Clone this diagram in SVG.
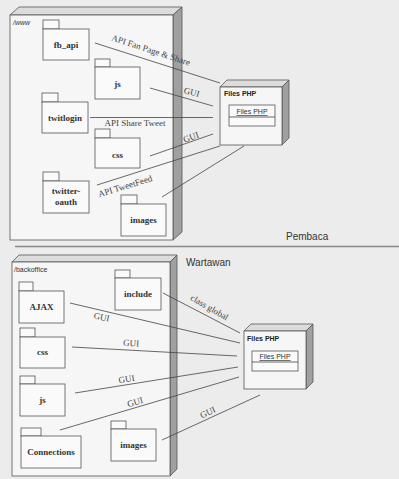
<svg xmlns="http://www.w3.org/2000/svg" width="399" height="479" viewBox="0 0 399 479">
<style>
.face{fill:#f6f6f6;stroke:#555;stroke-width:0.8}
.top{fill:#dcdcdc;stroke:#555;stroke-width:0.8}
.side{fill:#a0a0a0;stroke:#555;stroke-width:0.8}
.pk{fill:#fafafa;stroke:#555;stroke-width:0.8}
.pn{font-family:"Liberation Serif",serif;font-weight:bold;font-size:9px;fill:#333;text-anchor:middle}
.lb{font-family:"Liberation Serif",serif;font-size:9px;fill:#444;text-anchor:middle}
.nt{font-family:"Liberation Sans",sans-serif;font-size:7px;fill:#333}
.ft{font-family:"Liberation Sans",sans-serif;font-weight:bold;font-size:7px;fill:#222}
.ct{font-family:"Liberation Sans",sans-serif;font-size:7px;fill:#333;text-anchor:middle;text-decoration:underline}
.ln{stroke:#444;stroke-width:0.8;fill:none}
.zn{font-family:"Liberation Sans",sans-serif;font-size:10px;fill:#333}
</style>
<rect x="0" y="0" width="399" height="479" fill="#ececec"/>
<line x1="15" y1="246.5" x2="399" y2="246.5" stroke="#888" stroke-width="1.5"/>
<text class="zn" x="286" y="240">Pembaca</text>
<text class="zn" x="186" y="266">Wartawan</text>

<g id="www">
<polygon class="top" points="10,15 19,7 182,7 173,15"/>
<polygon class="side" points="173,15 182,7 182,232 173,240"/>
<rect class="face" x="10" y="15" width="163" height="225"/>
<text class="nt" x="13" y="25" font-style="italic">/www</text>
</g>
<g id="fb_api"><rect class="pk" x="43" y="20" width="16" height="9"/><rect class="pk" x="43" y="29" width="46" height="31"/><text class="pn" x="66" y="48">fb_api</text></g>
<g id="js_top"><rect class="pk" x="95" y="59" width="15" height="8"/><rect class="pk" x="95" y="67" width="45" height="32"/><text class="pn" x="117.5" y="87">js</text></g>
<g id="twitlogin"><rect class="pk" x="42" y="93" width="16" height="9"/><rect class="pk" x="42" y="102" width="46" height="31"/><text class="pn" x="65" y="121">twitlogin</text></g>
<g id="css_top"><rect class="pk" x="95" y="129" width="15" height="9"/><rect class="pk" x="95" y="138" width="45" height="30"/><text class="pn" x="117.5" y="158" font-size="7">css</text></g>
<g id="twitter-oauth"><rect class="pk" x="43" y="172" width="16" height="9"/><rect class="pk" x="43" y="181" width="46" height="32"/><text class="pn" x="66" y="194">twitter-</text><text class="pn" x="66" y="205">oauth</text></g>
<g id="images_top"><rect class="pk" x="121" y="195" width="16" height="9"/><rect class="pk" x="121" y="204" width="45" height="32"/><text class="pn" x="143.5" y="223" font-size="8">images</text></g>

<g id="filesphp_top">
<polygon class="top" points="220,87 227,80 289,80 282,87"/>
<polygon class="side" points="282,87 289,80 289,138 282,145"/>
<rect class="face" x="220" y="87" width="62" height="58"/>
<text class="ft" x="224" y="96">Files PHP</text>
<rect class="pk" x="229" y="105" width="46" height="21"/>
<line class="ln" x1="229" y1="117" x2="275" y2="117"/>
<text class="ct" x="252" y="114">Files PHP</text>
</g>

<g id="backoffice">
<polygon class="top" points="12,262 19,255 177,255 170,262"/>
<polygon class="side" points="170,262 177,255 177,469 170,476"/>
<rect class="face" x="12" y="262" width="158" height="214"/>
<text class="nt" x="14" y="272">/backoffice</text>
</g>
<g id="ajax"><rect class="pk" x="19" y="282" width="14" height="9"/><rect class="pk" x="19" y="291" width="45" height="32"/><text class="pn" x="41.5" y="310">AJAX</text></g>
<g id="include"><rect class="pk" x="115" y="270" width="15" height="8"/><rect class="pk" x="115" y="278" width="46" height="32"/><text class="pn" x="138" y="297">include</text></g>
<g id="css_bottom"><rect class="pk" x="20" y="328" width="15" height="9"/><rect class="pk" x="20" y="337" width="45" height="31"/><text class="pn" x="42.5" y="355" font-size="6">css</text></g>
<g id="js_bottom"><rect class="pk" x="20" y="376" width="15" height="8"/><rect class="pk" x="20" y="384" width="45" height="32"/><text class="pn" x="42.5" y="403">js</text></g>
<g id="connections"><rect class="pk" x="21" y="428" width="20" height="8"/><rect class="pk" x="21" y="436" width="60" height="32"/><text class="pn" x="51" y="455">Connections</text></g>
<g id="images_bottom"><rect class="pk" x="111" y="421" width="15" height="8"/><rect class="pk" x="111" y="429" width="45" height="32"/><text class="pn" x="133.5" y="448" font-size="8">images</text></g>

<g id="filesphp_bottom">
<polygon class="top" points="244,331 251,324 313,324 306,331"/>
<polygon class="side" points="306,331 313,324 313,382 306,389"/>
<rect class="face" x="244" y="331" width="62" height="58"/>
<text class="ft" x="247" y="341">Files PHP</text>
<rect class="pk" x="252" y="351" width="46" height="20"/>
<line class="ln" x1="252" y1="362" x2="298" y2="362"/>
<text class="ct" x="275" y="359">Files PHP</text>
</g>

<g id="connectors">
<line class="ln" x1="95" y1="43" x2="220" y2="83"/>
<text class="lb" transform="translate(150,53) rotate(18)">API Fan Page &amp; Share</text>
<line class="ln" x1="150" y1="88" x2="213" y2="106"/>
<text class="lb" transform="translate(191,95) rotate(15)">GUI</text>
<line class="ln" x1="90" y1="117.5" x2="213" y2="117.5"/>
<text class="lb" x="135" y="126">API Share Tweet</text>
<line class="ln" x1="150" y1="156" x2="213" y2="134"/>
<text class="lb" transform="translate(192,140) rotate(-20)">GUI</text>
<line class="ln" x1="97" y1="185" x2="220" y2="146"/>
<text class="lb" transform="translate(126,189) rotate(-17)">API TweetFeed</text>
<line class="ln" x1="162" y1="197" x2="244" y2="146"/>

<line class="ln" x1="163" y1="293" x2="240" y2="333"/>
<text class="lb" transform="translate(208,310) rotate(30)" font-size="8">class global</text>
<line class="ln" x1="70" y1="303" x2="240" y2="343"/>
<text class="lb" transform="translate(101,320) rotate(13)">GUI</text>
<line class="ln" x1="72" y1="347" x2="237" y2="356"/>
<text class="lb" transform="translate(131,346) rotate(3)">GUI</text>
<line class="ln" x1="75" y1="393" x2="238" y2="367"/>
<text class="lb" transform="translate(127,382) rotate(-9)">GUI</text>
<line class="ln" x1="60" y1="430" x2="239" y2="377"/>
<text class="lb" transform="translate(136,405) rotate(-16)">GUI</text>
<line class="ln" x1="162" y1="440" x2="260" y2="395"/>
<text class="lb" transform="translate(209,415) rotate(-25)">GUI</text>
</g>
</svg>
